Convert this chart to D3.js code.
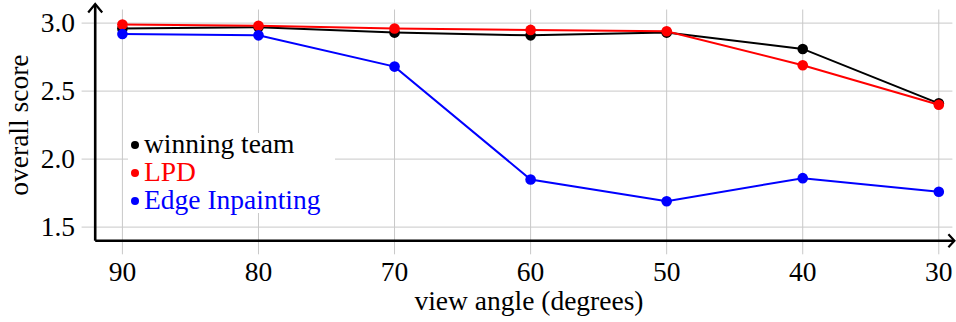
<!DOCTYPE html>
<html>
<head>
<meta charset="utf-8">
<script src="https://cdn.jsdelivr.net/npm/d3@7"></script>
<style>
  body { margin: 0; background: #fff; }
  svg { display: block; font-family: "Liberation Serif", "Times New Roman", serif; }
</style>
</head>
<body>
<svg id="chart" width="956" height="322"></svg>
<script>
// data
const angles = [90, 80, 70, 60, 50, 40, 30];
const winningTeam = [2.96, 2.97, 2.93, 2.91, 2.93, 2.81, 2.41];
const lpd = [2.99, 2.98, 2.96, 2.95, 2.94, 2.69, 2.40];
const edgeInpainting = [2.92, 2.91, 2.68, 1.85, 1.69, 1.86, 1.76];
const yTicks = [1.5, 2.0, 2.5, 3.0];

const series = [
    { name: 'winning team', values: winningTeam, color: '#000000' },
    { name: 'LPD', values: lpd, color: '#ff0000' },
    { name: 'Edge Inpainting', values: edgeInpainting, color: '#0000ff' }
];

const fontSize = 27.5;
const svg = d3.select('#chart');

// plot box goes 93..29 on x and 1.3..3.1 on y, axes cross at (92, 1.4)
const x = d3.scaleLinear().domain([93, 29]).range([81.6, 952.4]);
const y = d3.scaleLinear().domain([1.3, 3.1]).range([254.3, 9.5]);

// grid
const grid = svg.append('g').attr('stroke', '#c8c8c8').attr('stroke-width', 1);
grid.selectAll('line.v')
    .data(angles)
    .join('line')
    .attr('class', 'v')
    .attr('x1', d => x(d)).attr('x2', d => x(d))
    .attr('y1', y(3.1)).attr('y2', y(1.3));
grid.selectAll('line.h')
    .data(yTicks)
    .join('line')
    .attr('class', 'h')
    .attr('x1', x(93)).attr('x2', x(29))
    .attr('y1', d => y(d)).attr('y2', d => y(d));

// axes with arrow tips
const x0 = x(92), y0 = y(1.4);
const axes = svg.append('g')
    .attr('stroke', '#000')
    .attr('stroke-width', 2.6)
    .attr('fill', 'none');
axes.append('path').attr('d', `M${x0},${y0} V${y(3.1) - 5}`);
axes.append('path').attr('d', `M${x0},${y0} H${x(29) + 1}`);
axes.append('path')
    .attr('stroke-width', 2.2)
    .attr('d', `M${x0 - 7},${y(3.1) + 3} L${x0},${y(3.1) - 5.5} L${x0 + 7},${y(3.1) + 3}`);
axes.append('path')
    .attr('stroke-width', 2.2)
    .attr('d', `M${x(29) - 4},${y0 - 6.5} L${x(29) + 2},${y0} L${x(29) - 4},${y0 + 6.5}`);

// tick labels
svg.append('g')
    .selectAll('text')
    .data(angles)
    .join('text')
    .attr('x', d => x(d))
    .attr('y', 281)
    .attr('text-anchor', 'middle')
    .attr('font-size', fontSize)
    .text(d => d);

svg.append('g')
    .selectAll('text')
    .data(yTicks)
    .join('text')
    .attr('x', 75)
    .attr('y', d => y(d) + 9)
    .attr('text-anchor', 'end')
    .attr('font-size', fontSize)
    .text(d => d3.format('.1f')(d));

// axis titles
svg.append('text')
    .attr('x', 529)
    .attr('y', 310)
    .attr('text-anchor', 'middle')
    .attr('font-size', fontSize)
    .text('view angle (degrees)');

svg.append('text')
    .attr('transform', `translate(28, ${(y(3.1) + y(1.4)) / 2}) rotate(-90)`)
    .attr('text-anchor', 'middle')
    .attr('font-size', fontSize)
    .text('overall score');

// lines + markers
const line = d3.line()
    .x((d, i) => x(angles[i]))
    .y(d => y(d));

series.forEach(s => {
    const g = svg.append('g');
    g.append('path')
        .datum(s.values)
        .attr('d', line)
        .attr('fill', 'none')
        .attr('stroke', s.color)
        .attr('stroke-width', 2);
    g.selectAll('circle')
        .data(s.values)
        .join('circle')
        .attr('cx', (d, i) => x(angles[i]))
        .attr('cy', d => y(d))
        .attr('r', 5.3)
        .attr('fill', s.color);
});

// legend
const legend = svg.append('g');
legend.append('rect')
    .attr('x', 128).attr('y', 133)
    .attr('width', 207).attr('height', 80)
    .attr('fill', '#fff');
series.forEach((s, i) => {
    const cy = 145 + i * 28;
    legend.append('circle')
        .attr('cx', 135).attr('cy', cy).attr('r', 4)
        .attr('fill', s.color);
    legend.append('text')
        .attr('x', 144).attr('y', cy + 7.5)
        .attr('font-size', fontSize)
        .attr('fill', s.color)
        .text(s.name);
});
</script>
</body>
</html>
